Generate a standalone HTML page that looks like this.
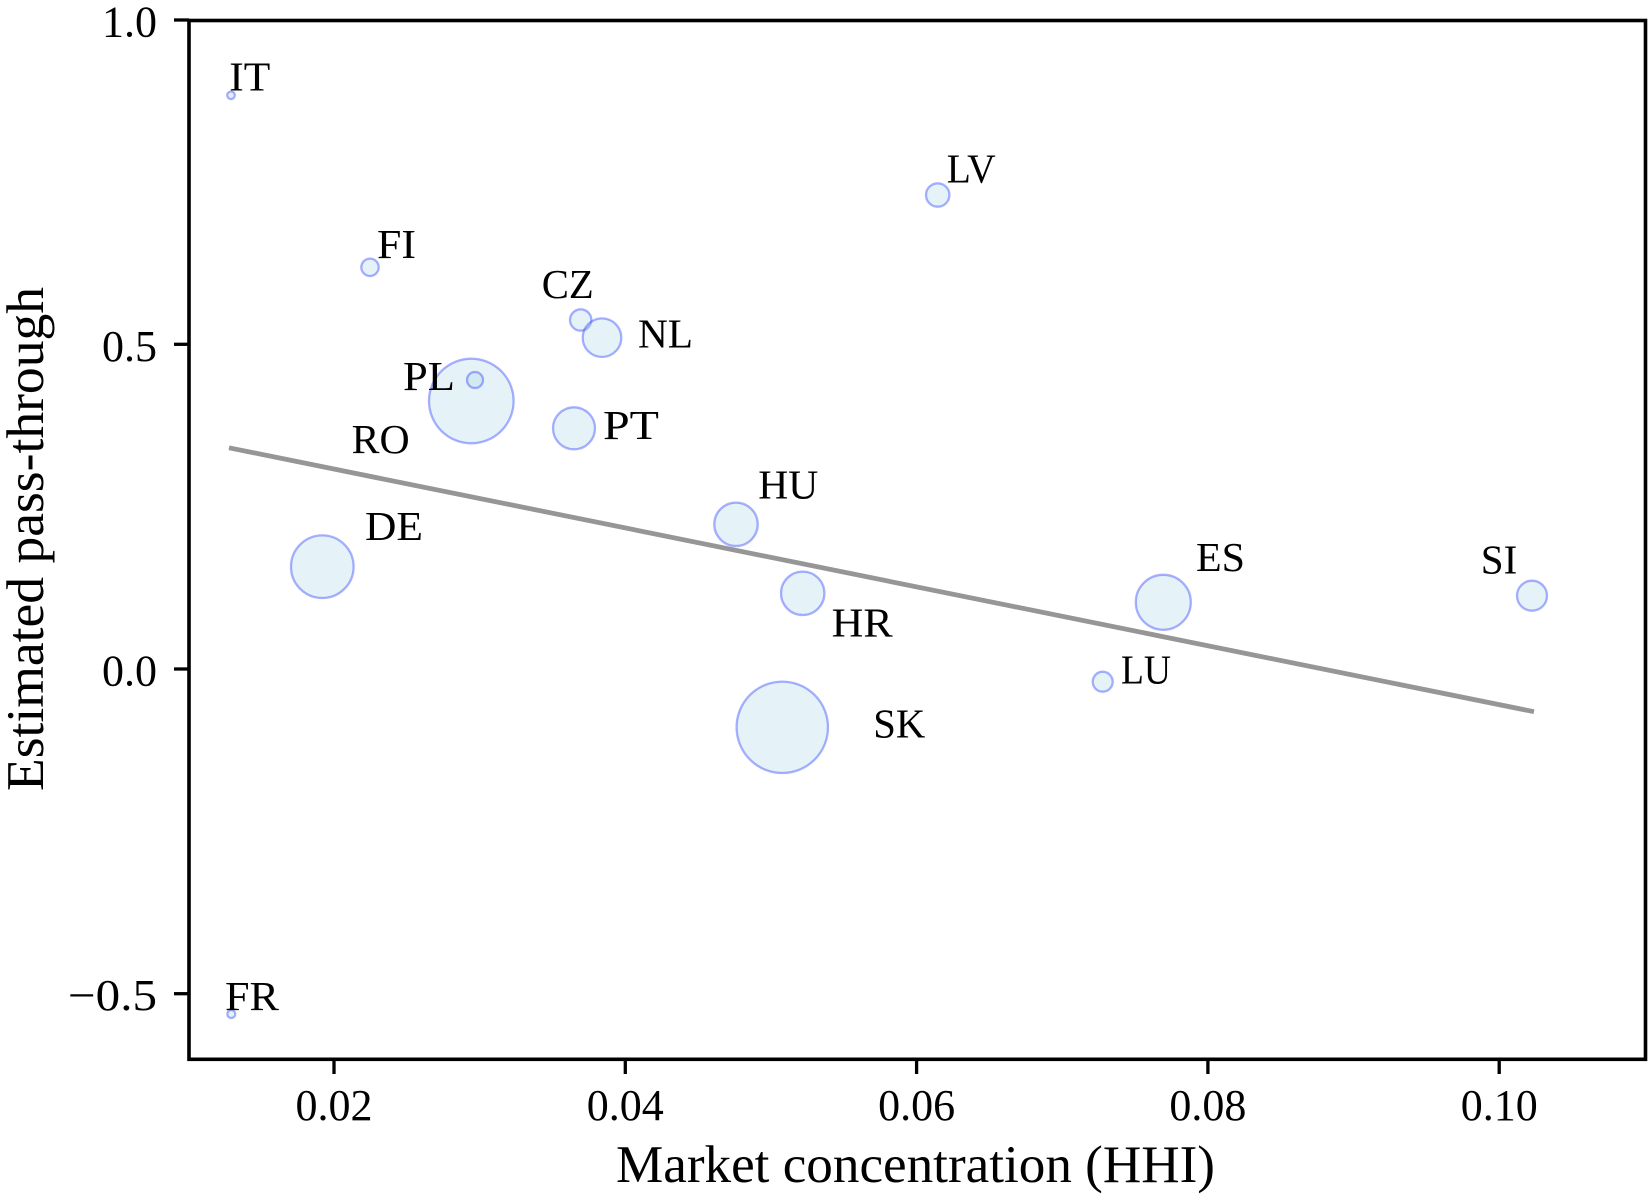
<!DOCTYPE html>
<html>
<head>
<meta charset="utf-8">
<style>
  html, body { margin: 0; padding: 0; background: #ffffff; }
  svg { display: block; }
  text { font-family: "Liberation Serif", "DejaVu Serif", serif; fill: #000; }
</style>
</head>
<body>
<svg width="1650" height="1200" viewBox="0 0 1650 1200" xmlns="http://www.w3.org/2000/svg">
  <rect x="0" y="0" width="1650" height="1200" fill="#ffffff"/>

  <!-- bubbles -->
  <g fill="rgba(173,216,230,0.32)" stroke="rgba(40,60,255,0.40)" stroke-width="2.3">
    <circle cx="231" cy="95.3" r="3.8"/>
    <circle cx="370" cy="267.3" r="8.7"/>
    <circle cx="580.7" cy="320" r="10.7"/>
    <circle cx="602" cy="337.7" r="19.3"/>
    <circle cx="471.3" cy="401" r="42.3"/>
    <circle cx="475" cy="380" r="8"/>
    <circle cx="574" cy="428.3" r="21"/>
    <circle cx="322.3" cy="566.7" r="31.3"/>
    <circle cx="937.7" cy="195" r="11.7"/>
    <circle cx="736" cy="524.3" r="21.7"/>
    <circle cx="802.7" cy="593.3" r="21.7"/>
    <circle cx="782.3" cy="727.3" r="45.7"/>
    <circle cx="1163.3" cy="602.3" r="27.5"/>
    <circle cx="1532" cy="595.7" r="15"/>
    <circle cx="1102.7" cy="681.7" r="10"/>
    <circle cx="231.3" cy="1014" r="4"/>
  </g>

  <!-- regression line -->
  <line x1="229" y1="447.8" x2="1534" y2="711.7" stroke="#969696" stroke-width="4.8"/>

  <!-- annotations -->
  <g font-size="41">
    <text x="229.3" y="90.7" textLength="41" lengthAdjust="spacingAndGlyphs">IT</text>
    <text x="946.7" y="182.3" textLength="49" lengthAdjust="spacingAndGlyphs">LV</text>
    <text x="377" y="258" textLength="39" lengthAdjust="spacingAndGlyphs">FI</text>
    <text x="541.7" y="298" textLength="52" lengthAdjust="spacingAndGlyphs">CZ</text>
    <text x="638" y="347.7" textLength="55" lengthAdjust="spacingAndGlyphs">NL</text>
    <text x="403" y="390" textLength="52" lengthAdjust="spacingAndGlyphs">PL</text>
    <text x="603" y="439" textLength="56" lengthAdjust="spacingAndGlyphs">PT</text>
    <text x="351.7" y="453" textLength="58" lengthAdjust="spacingAndGlyphs">RO</text>
    <text x="758.3" y="498.3" textLength="60" lengthAdjust="spacingAndGlyphs">HU</text>
    <text x="365" y="540" textLength="58" lengthAdjust="spacingAndGlyphs">DE</text>
    <text x="1196" y="571" textLength="49" lengthAdjust="spacingAndGlyphs">ES</text>
    <text x="1480.8" y="573.3" textLength="36.5" lengthAdjust="spacingAndGlyphs">SI</text>
    <text x="831.7" y="636.7" textLength="61" lengthAdjust="spacingAndGlyphs">HR</text>
    <text x="1121" y="683.3" textLength="50" lengthAdjust="spacingAndGlyphs">LU</text>
    <text x="873.3" y="737.7" textLength="52" lengthAdjust="spacingAndGlyphs">SK</text>
    <text x="225" y="1010" textLength="54" lengthAdjust="spacingAndGlyphs">FR</text>
  </g>

  <!-- axes frame -->
  <rect x="189" y="20.5" width="1456.5" height="1038.8" fill="none" stroke="#000" stroke-width="3.6"/>

  <!-- x ticks -->
  <g stroke="#000" stroke-width="3.3">
    <line x1="334" y1="1059" x2="334" y2="1074"/>
    <line x1="625.3" y1="1059" x2="625.3" y2="1074"/>
    <line x1="916.6" y1="1059" x2="916.6" y2="1074"/>
    <line x1="1207.9" y1="1059" x2="1207.9" y2="1074"/>
    <line x1="1499.2" y1="1059" x2="1499.2" y2="1074"/>
  </g>
  <g font-size="44" text-anchor="middle">
    <text x="334" y="1120">0.02</text>
    <text x="625.3" y="1120">0.04</text>
    <text x="916.6" y="1120">0.06</text>
    <text x="1207.9" y="1120">0.08</text>
    <text x="1499.2" y="1120">0.10</text>
  </g>

  <!-- y ticks -->
  <g stroke="#000" stroke-width="3.3">
    <line x1="174" y1="20" x2="189" y2="20"/>
    <line x1="174" y1="344.3" x2="189" y2="344.3"/>
    <line x1="174" y1="669" x2="189" y2="669"/>
    <line x1="174" y1="993.7" x2="189" y2="993.7"/>
  </g>
  <g font-size="44" text-anchor="end">
    <text x="157" y="36.5">1.0</text>
    <text x="157" y="360.8">0.5</text>
    <text x="157" y="685.5">0.0</text>
  </g>
  <text x="68" y="1010.2" font-size="44" textLength="89" lengthAdjust="spacingAndGlyphs">−0.5</text>

  <!-- axis labels -->
  <text x="915.5" y="1182" font-size="53" text-anchor="middle" textLength="599" lengthAdjust="spacingAndGlyphs">Market concentration (HHI)</text>
  <text transform="translate(43,539) rotate(-90)" x="0" y="0" font-size="53" text-anchor="middle" textLength="504" lengthAdjust="spacingAndGlyphs">Estimated pass-through</text>
</svg>
</body>
</html>
